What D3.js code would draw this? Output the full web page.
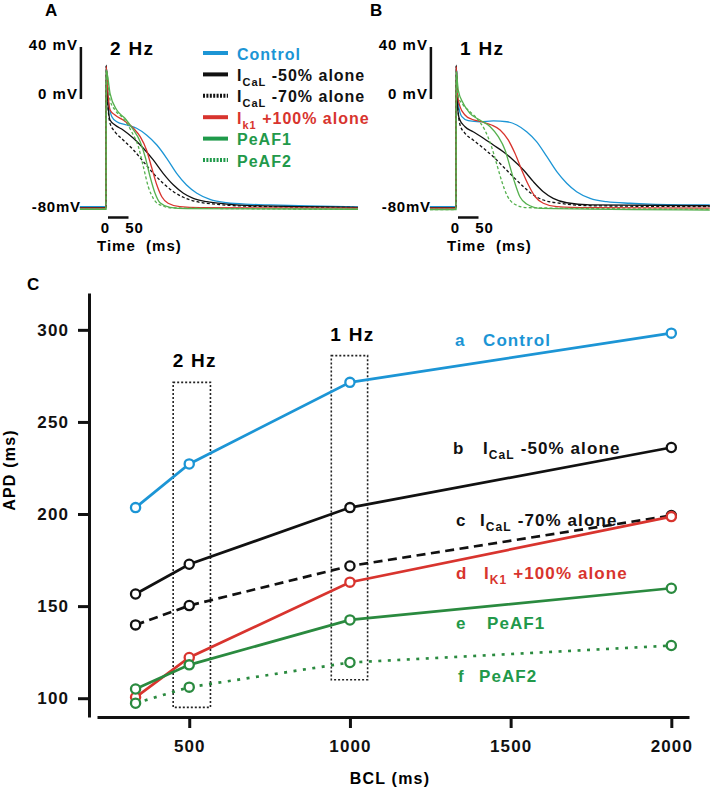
<!DOCTYPE html>
<html>
<head>
<meta charset="utf-8">
<script src="https://cdn.jsdelivr.net/npm/d3@7/dist/d3.min.js"></script>
<style>
  html, body { margin: 0; padding: 0; background: #fff; }
  svg { display: block; }
  text { font-family: Arial, "Liberation Sans", Helvetica, sans-serif; font-weight: bold; }
</style>
</head>
<body>
<svg id="chart" width="710" height="790"></svg>
<script>
// ---------------- DATA ----------------
// Panel A (2 Hz) action potentials: [time ms, voltage mV]
const apA_control = [[-58,-82.8],[0,-82.8],[0.5,25.4],[5,-0.8],[13,-13.6],[24,-17.5],[46,-20],[68,-22.5],[90,-27.7],[113,-35.4],[135,-45.6],[157,-57.2],[179,-66.2],[202,-72.5],[231,-77.2],[268,-79.8],[320,-81],[364,-81.5],[450,-82.3],[560,-83]];
const apA_ical50 = [[-58,-83.5],[0,-83.5],[0.5,26],[3,4],[9,-16.2],[20,-20],[38,-23.8],[61,-30.2],[83,-37.9],[105,-46.9],[127,-57.2],[150,-66.2],[172,-72.5],[194,-76.4],[224,-79],[268,-80.8],[320,-82],[560,-83.3]];
const apA_ical70 = [[-58,-83.5],[0,-83.5],[0.5,25],[3,2],[9,-18.7],[20,-25.2],[38,-31.5],[61,-39.2],[83,-48.2],[105,-57.2],[127,-64.8],[150,-71.3],[172,-75.6],[202,-79],[246,-81],[320,-82.5],[560,-83.5]];
const apA_ik1 = [[-58,-84],[0,-84],[0.5,25],[5,1.8],[9,-8.5],[20,-12.3],[38,-16.2],[61,-22.5],[76,-29],[90,-39.2],[101,-52.1],[113,-66.2],[124,-75.2],[138,-80.2],[164,-82.8],[209,-83.6],[560,-84]];
const apA_peaf1 = [[-58,-84.8],[0,-84.8],[0.5,22.3],[9,4.4],[24,-8.5],[42,-14.8],[61,-23.8],[76,-32.8],[87,-44.4],[98,-59.8],[109,-72.5],[120,-79.8],[142,-83.3],[179,-84.4],[560,-84.8]];
const apA_peaf2 = [[-58,-84.8],[0,-84.8],[0.5,22],[9,-0.8],[20,-8.5],[38,-14.8],[57,-25.2],[72,-36.7],[83,-52.1],[94,-67.5],[105,-76.4],[120,-81.5],[150,-83.8],[560,-84.8]];

// Panel B (1 Hz) action potentials
const apB_control = [[-58,-82.8],[0,-82.8],[0.5,25],[5,-3.3],[13,-13.6],[27,-16.7],[53,-17.5],[83,-16.9],[113,-17.5],[135,-20],[157,-25.2],[179,-32.8],[202,-44.4],[224,-55.9],[246,-64.8],[268,-71.3],[298,-76.4],[335,-79],[387,-80.2],[431,-80.8],[564,-81.5]];
const apB_ical50 = [[-58,-83.5],[0,-83.5],[0.5,26],[3,-3.3],[7,-14.8],[20,-21.3],[38,-25.2],[61,-30.2],[83,-35.4],[105,-40.5],[127,-46.9],[150,-54.6],[172,-63.6],[194,-71.3],[216,-76.4],[246,-79.8],[298,-81.5],[564,-82.1]];
const apB_ical70 = [[-58,-83.5],[0,-83.5],[0.5,25],[3,0],[9,-20],[20,-26.4],[38,-31.5],[61,-37.9],[83,-44.4],[105,-52.1],[127,-59.8],[150,-67.5],[172,-73.8],[194,-77.7],[231,-80.2],[298,-82.1],[564,-82.8]];
const apB_ik1 = [[-58,-84],[0,-84],[0.5,25],[3,4.4],[9,-5.9],[20,-12.3],[35,-15.6],[57,-17.5],[79,-20],[98,-23.8],[116,-31.5],[131,-41.8],[146,-54.6],[161,-66.2],[176,-75.2],[194,-80.2],[224,-82.8],[300,-83.6],[564,-84]];
const apB_peaf1 = [[-58,-85],[0,-85],[0.5,21],[5,6.9],[16,-3.3],[31,-11],[53,-16.2],[76,-21.3],[94,-29],[109,-39.2],[120,-52.1],[131,-64.8],[142,-75.2],[157,-80.8],[187,-84.1],[564,-85.4]];
const apB_peaf2 = [[-58,-85],[0,-85],[0.5,21],[5,1.8],[13,-3.3],[27,-8.5],[46,-14.8],[64,-23.8],[79,-36.7],[90,-49.5],[102,-63.6],[113,-73.8],[127,-80.2],[157,-83.6],[564,-84.8]];

// Panel C: APD vs BCL
const bcl = [333, 500, 1000, 2000];
const apd_control = [203.5, 227.2, 271.5, 298.2];
const apd_ical50 = [156.6, 172.7, 203.5, 236.1];
const apd_ical70 = [139.8, 150.3, 171.8, 199.2];
const apd_ik1 = [100.5, 122.1, 163.0, 198.6];
const apd_peaf1 = [105.0, 118.1, 142.5, 159.7];
const apd_peaf2 = [97.3, 106.0, 119.4, 128.6];

const xTicks = [500, 1000, 1500, 2000];
const yTicks = [100, 150, 200, 250, 300];

// ---------------- STYLE ----------------
const COL = {
  blue: "#1c95d5", black: "#111111", red: "#d8342e",
  greenTrace: "#55b04e", greenLegend: "#1f9a4a", greenC: "#2a8a3f", greenText: "#22994a"
};

const svg = d3.select("#chart");
svg.append("rect").attr("width", 710).attr("height", 790).attr("fill", "#fff");

// ---------------- PANELS A & B ----------------
const vScale = d3.scaleLinear().domain([-90, 40]).range([216, 47]);

function drawAP(originX, tEnd, traces, hzLabel, panelLetter, letterX, showLegend) {
  const tScale = d3.scaleLinear().domain([-58, tEnd]).range([originX - 58 * 0.45, originX + tEnd * 0.45]);
  const g = svg.append("g");
  const line = d3.line().x(d => tScale(d[0])).y(d => vScale(d[1])).curve(d3.curveMonotoneX);
  traces.forEach(tr => {
    g.append("path").datum(tr.data).attr("d", line)
      .attr("fill", "none").attr("stroke", tr.color).attr("stroke-width", 1.3)
      .attr("stroke-dasharray", tr.dash || null);
  });
  // vertical scale bar 0..40 mV
  const sbx = tScale(-58) + 1;
  g.append("line").attr("x1", sbx).attr("x2", sbx).attr("y1", vScale(40)).attr("y2", vScale(0))
    .attr("stroke", "#111").attr("stroke-width", 2.5);
  g.append("text").attr("x", sbx - 3).attr("y", vScale(40) + 3).attr("text-anchor", "end")
    .attr("font-size", 15).attr("letter-spacing", 1).text("40 mV");
  g.append("text").attr("x", sbx - 3).attr("y", vScale(0)).attr("text-anchor", "end")
    .attr("font-size", 15).attr("letter-spacing", 1).text("0 mV");
  g.append("text").attr("x", sbx).attr("y", 211.5).attr("text-anchor", "end")
    .attr("font-size", 15).attr("letter-spacing", 0.8).text("-80mV");
  // time scale bar 0..50 ms
  g.append("line").attr("x1", tScale(0) + 2).attr("x2", tScale(50)).attr("y1", 217.5).attr("y2", 217.5)
    .attr("stroke", "#111").attr("stroke-width", 2.5);
  g.append("text").attr("x", tScale(0) - 1).attr("y", 233).attr("text-anchor", "middle")
    .attr("font-size", 15).text("0");
  g.append("text").attr("x", tScale(50) + 6).attr("y", 233).attr("text-anchor", "middle")
    .attr("font-size", 15).attr("letter-spacing", 1).text("50");
  g.append("text").attr("x", tScale(0) - 9).attr("y", 251).attr("font-size", 15)
    .attr("letter-spacing", 1).style("white-space", "pre").text("Time  (ms)");
  // frequency label
  g.append("text").attr("x", tScale(0) + 4).attr("y", 55).attr("font-size", 19)
    .attr("letter-spacing", 1.3).style("white-space", "pre").text(hzLabel);
  // panel letter
  g.append("text").attr("x", letterX).attr("y", 16).attr("font-size", 17).text(panelLetter);

  if (showLegend) {
    const items = [
      { color: COL.blue, dash: null, parts: [["Control", 0]] },
      { color: COL.black, dash: null, parts: [["I", 0], ["CaL", 1], [" -50% alone", 0]] },
      { color: COL.black, dash: "2,1.4", parts: [["I", 0], ["CaL", 1], [" -70% alone", 0]] },
      { color: COL.red, dash: null, parts: [["I", 0], ["k1", 1], [" +100% alone", 0]] },
      { color: COL.greenLegend, dash: null, parts: [["PeAF1", 0]] },
      { color: COL.greenLegend, dash: "2,1.4", parts: [["PeAF2", 0]] }
    ];
    items.forEach((it, i) => {
      const yy = 53 + i * 21.4;
      g.append("line").attr("x1", 203).attr("x2", 228).attr("y1", yy).attr("y2", yy)
        .attr("stroke", it.color).attr("stroke-width", 4).attr("stroke-dasharray", it.dash);
      const t = g.append("text").attr("x", 237).attr("y", yy + 6.5).attr("font-size", 16)
        .attr("letter-spacing", 1).attr("fill", it.color === COL.greenLegend ? COL.greenText : it.color)
        .style("white-space", "pre");
      let prevSub = 0;
      it.parts.forEach(p => {
        const ts = t.append("tspan").text(p[0]);
        if (p[1] === 1) { ts.attr("font-size", 11).attr("dy", 5); prevSub = 1; }
        else if (prevSub) { ts.attr("dy", -5); prevSub = 0; }
      });
    });
  }
}

drawAP(106, 560, [
  { data: apA_control, color: COL.blue },
  { data: apA_ical50, color: COL.black },
  { data: apA_ical70, color: COL.black, dash: "3,2.2" },
  { data: apA_ik1, color: COL.red },
  { data: apA_peaf2, color: COL.greenTrace, dash: "3,2.2" },
  { data: apA_peaf1, color: COL.greenTrace }
], "2 Hz", "A", 45, true);

drawAP(456, 564, [
  { data: apB_control, color: COL.blue },
  { data: apB_ical50, color: COL.black },
  { data: apB_ical70, color: COL.black, dash: "3,2.2" },
  { data: apB_ik1, color: COL.red },
  { data: apB_peaf2, color: COL.greenTrace, dash: "3,2.2" },
  { data: apB_peaf1, color: COL.greenTrace }
], "1 Hz", "B", 370, false);

// ---------------- PANEL C ----------------
const x = d3.scaleLinear().domain([213, 2055]).range([97, 689]);
const y = d3.scaleLinear().domain([89.8, 320]).range([717, 293]);

const gC = svg.append("g");
gC.append("text").attr("x", 27).attr("y", 290).attr("font-size", 17).text("C");

const yAxis = gC.append("g").attr("transform", "translate(89,0)")
  .call(d3.axisLeft(y).tickValues(yTicks).tickSize(11).tickSizeOuter(0).tickPadding(9));
const xAxis = gC.append("g").attr("transform", "translate(0,717)")
  .call(d3.axisBottom(x).tickValues(xTicks).tickFormat(d3.format("d")).tickSize(11).tickSizeOuter(0).tickPadding(12));
[yAxis, xAxis].forEach(a => {
  a.select(".domain").attr("stroke", "#111").attr("stroke-width", 3);
  a.selectAll(".tick line").attr("stroke", "#111").attr("stroke-width", 3);
  a.selectAll(".tick text").attr("fill", "#111").attr("font-size", 17)
    .attr("font-family", "Arial, 'Liberation Sans', sans-serif").attr("font-weight", "bold")
    .attr("letter-spacing", 1.1);
});

gC.append("text").attr("transform", "translate(15,470) rotate(-90)").attr("text-anchor", "middle")
  .attr("font-size", 16).attr("letter-spacing", 1.2).text("APD (ms)");
gC.append("text").attr("x", 390).attr("y", 784).attr("text-anchor", "middle")
  .attr("font-size", 16).attr("letter-spacing", 1.2).text("BCL (ms)");

// dotted frequency boxes
const boxes = [
  { label: "2 Hz", x0: 450, x1: 566, top: 271.5, bottom: 95 },
  { label: "1 Hz", x0: 942, x1: 1055, top: 286, bottom: 110 }
];
boxes.forEach(b => {
  gC.append("rect").attr("x", x(b.x0)).attr("y", y(b.top))
    .attr("width", x(b.x1) - x(b.x0)).attr("height", y(b.bottom) - y(b.top))
    .attr("fill", "none").attr("stroke", "#222").attr("stroke-width", 1.6).attr("stroke-dasharray", "2,2");
  gC.append("text").attr("x", (x(b.x0) + x(b.x1)) / 2 + 3).attr("y", y(b.top) - 15)
    .attr("text-anchor", "middle").attr("font-size", 19).attr("letter-spacing", 1.3)
    .style("white-space", "pre").text(b.label);
});

const series = [
  { vals: apd_control, color: COL.blue, dash: null },
  { vals: apd_ical50, color: COL.black, dash: null },
  { vals: apd_ical70, color: COL.black, dash: "9,5.5" },
  { vals: apd_ik1, color: COL.red, dash: null },
  { vals: apd_peaf1, color: COL.greenC, dash: null },
  { vals: apd_peaf2, color: COL.greenC, dash: "3,6.5" }
];
const lineC = d3.line().x(d => x(d[0])).y(d => y(d[1]));
series.forEach(s => {
  const pts = bcl.map((b, i) => [b, s.vals[i]]);
  gC.append("path").datum(pts).attr("d", lineC).attr("fill", "none")
    .attr("stroke", s.color).attr("stroke-width", 2.7).attr("stroke-dasharray", s.dash);
});
series.forEach(s => {
  gC.selectAll(null).data(bcl.map((b, i) => [b, s.vals[i]])).enter().append("circle")
    .attr("cx", d => x(d[0])).attr("cy", d => y(d[1])).attr("r", 4.6)
    .attr("fill", "#fff").attr("stroke", s.color).attr("stroke-width", 2.3);
});

// series labels
const labels = [
  { letter: "a", lx: 455, tx: 483, yb: 346, color: COL.blue, parts: [["Control", 0]] },
  { letter: "b", lx: 453, tx: 483, yb: 454, color: COL.black, parts: [["I", 0], ["CaL", 1], [" -50% alone", 0]] },
  { letter: "c", lx: 456, tx: 480, yb: 526, color: COL.black, parts: [["I", 0], ["CaL", 1], [" -70% alone", 0]] },
  { letter: "d", lx: 456, tx: 484, yb: 579, color: COL.red, parts: [["I", 0], ["K1", 1], [" +100% alone", 0]] },
  { letter: "e", lx: 456, tx: 487, yb: 629, color: COL.greenText, parts: [["PeAF1", 0]] },
  { letter: "f", lx: 458, tx: 479, yb: 682, color: COL.greenText, parts: [["PeAF2", 0]] }
];
labels.forEach(l => {
  gC.append("text").attr("x", l.lx).attr("y", l.yb).attr("font-size", 17).attr("fill", l.color).text(l.letter);
  const t = gC.append("text").attr("x", l.tx).attr("y", l.yb).attr("font-size", 17)
    .attr("letter-spacing", 1.1).attr("fill", l.color).style("white-space", "pre");
  let prevSub = 0;
  l.parts.forEach(p => {
    const ts = t.append("tspan").text(p[0]);
    if (p[1] === 1) { ts.attr("font-size", 12).attr("dy", 5); prevSub = 1; }
    else if (prevSub) { ts.attr("dy", -5); prevSub = 0; }
  });
});
</script>
</body>
</html>
